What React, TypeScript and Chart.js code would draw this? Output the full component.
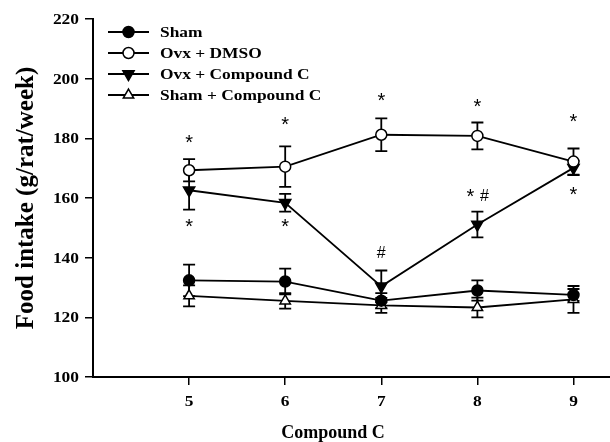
import React, { useEffect, useRef } from 'react';
import { Chart, registerables } from 'chart.js';
import { drawPoint } from 'chart.js/helpers';

Chart.register(...registerables);

// ---- data ----
const weeks = [5, 6, 7, 8, 9];
const yTicks = [100, 120, 140, 160, 180, 200, 220];

const seriesLabels = ['Sham', 'Ovx + DMSO', 'Ovx + Compound C', 'Sham + Compound C'];
const sham = [132.4, 132.0, 125.6, 129.0, 127.5];
const shamErr = [5.3, 4.3, 2.5, 3.4, 2.0];
const ovxDmso = [169.3, 170.5, 181.2, 180.8, 172.2];
const ovxDmsoErr = [3.7, 6.8, 5.5, 4.5, 4.4];
const ovxCC = [162.6, 158.4, 130.4, 151.1, 170.1];
const ovxCCErr = [6.5, 3.0, 5.3, 4.3, 2.4];
const shamCC = [127.2, 125.5, 124.0, 123.3, 126.0];
const shamCCErr = [3.5, 2.6, 2.5, 3.3, 4.5];

// significance marks (week, value, text)
const markWeeks = [5, 5, 6, 6, 7, 7, 8, 8, 9, 9];
const markValues = [179.1, 151.1, 185.0, 151.1, 193.3, 141.7, 191.1, 161.0, 186.2, 161.7];
const markTexts = ['*', '*', '*', '*', '*', '#', '*', '* #', '*', '*'];

const xTitle = 'Compound C';
const yTitle = 'Food intake (g/rat/week)';

const SERIF = '"Liberation Serif", "Times New Roman", serif';
const SANS = '"Liberation Sans", Arial, sans-serif';

const styles = [
  { pointStyle: 'circle', radius: 5.5, rotation: 0, fill: '#000' },
  { pointStyle: 'circle', radius: 5.5, rotation: 0, fill: '#fff' },
  { pointStyle: 'triangle', radius: 6.5, rotation: 180, fill: '#000' },
  { pointStyle: 'triangle', radius: 6, rotation: 0, fill: '#fff' },
];

const allValues = [sham, ovxDmso, ovxCC, shamCC];
const allErrors = [shamErr, ovxDmsoErr, ovxCCErr, shamCCErr];

function stretched(ctx: CanvasRenderingContext2D, text: string, x: number, y: number, font: string, sx: number, align: CanvasTextAlign, baseline: CanvasTextBaseline) {
  ctx.save();
  ctx.font = font;
  ctx.fillStyle = '#000';
  ctx.textAlign = align;
  ctx.textBaseline = baseline;
  ctx.translate(x, y);
  ctx.scale(sx, 1);
  ctx.fillText(text, 0, 0);
  ctx.restore();
}

function drawMark(ctx: CanvasRenderingContext2D, ch: string, x: number, cy: number) {
  if (ch === '*') {
    stretched(ctx, '*', x, cy + 8, `20px ${SANS}`, 1.0, 'center', 'alphabetic');
  } else {
    stretched(ctx, ch, x, cy + 5.5, `16px ${SANS}`, 1.0, 'center', 'alphabetic');
  }
}

const errorBarPlugin = {
  id: 'errorBars',
  beforeDatasetsDraw(chart: any) {
    const ctx = chart.ctx as CanvasRenderingContext2D;
    const xs = chart.scales.x;
    const ys = chart.scales.y;
    ctx.save();
    ctx.strokeStyle = '#000';
    ctx.lineWidth = 1.8;
    allValues.forEach((vals, i) => {
      vals.forEach((v, j) => {
        const e = allErrors[i][j];
        const x = xs.getPixelForValue(weeks[j]);
        const yt = ys.getPixelForValue(v + e);
        const yb = ys.getPixelForValue(v - e);
        ctx.beginPath();
        ctx.moveTo(x, yt);
        ctx.lineTo(x, yb);
        ctx.moveTo(x - 6, yt);
        ctx.lineTo(x + 6, yt);
        ctx.moveTo(x - 6, yb);
        ctx.lineTo(x + 6, yb);
        ctx.stroke();
      });
    });
    ctx.restore();
  },
};

const decorPlugin = {
  id: 'decor',
  afterDraw(chart: any) {
    const ctx = chart.ctx as CanvasRenderingContext2D;
    const xs = chart.scales.x;
    const ys = chart.scales.y;
    const area = chart.chartArea;

    // y tick labels
    yTicks.forEach((v) => {
      stretched(ctx, String(v), area.left - 14, ys.getPixelForValue(v) + 1, `bold 15px ${SERIF}`, 1.16, 'right', 'middle');
    });
    // x tick labels
    weeks.forEach((w) => {
      stretched(ctx, String(w), xs.getPixelForValue(w), area.bottom + 25, `bold 15px ${SERIF}`, 1.16, 'center', 'middle');
    });
    // x title
    stretched(ctx, xTitle, 333, 438, `bold 18px ${SERIF}`, 1.0, 'center', 'alphabetic');
    // y title
    ctx.save();
    ctx.font = `bold 25px ${SERIF}`;
    ctx.fillStyle = '#000';
    ctx.textAlign = 'center';
    ctx.textBaseline = 'alphabetic';
    ctx.translate(33, (area.top + area.bottom) / 2);
    ctx.rotate(-Math.PI / 2);
    ctx.fillText(yTitle, 0, 0);
    ctx.restore();

    // significance marks
    markTexts.forEach((t, k) => {
      const x = xs.getPixelForValue(markWeeks[k]);
      const y = ys.getPixelForValue(markValues[k]);
      const parts = t.split(' ');
      const gap = 14;
      parts.forEach((p, pi) => {
        const px = x + (pi - (parts.length - 1) / 2) * gap;
        drawMark(ctx, p, px, y);
      });
    });

    // legend
    const rows = [32, 53, 74, 95];
    seriesLabels.forEach((lab, i) => {
      const y = rows[i];
      ctx.save();
      ctx.strokeStyle = '#000';
      ctx.lineWidth = 1.8;
      ctx.beginPath();
      ctx.moveTo(108, y);
      ctx.lineTo(149, y);
      ctx.stroke();
      ctx.fillStyle = styles[i].fill;
      ctx.strokeStyle = '#000';
      ctx.lineWidth = 1.5;
      drawPoint(ctx, { pointStyle: styles[i].pointStyle as any, radius: styles[i].radius, rotation: styles[i].rotation, borderWidth: 1.5 } as any, 128.5, y);
      ctx.restore();
      stretched(ctx, lab, 160, y + 1, `bold 15px ${SERIF}`, 1.16, 'left', 'middle');
    });
  },
};

export default function App() {
  const ref = useRef<HTMLCanvasElement | null>(null);

  useEffect(() => {
    if (!ref.current) return;
    const datasets = allValues.map((vals, i) => ({
      label: seriesLabels[i],
      data: vals.map((v, j) => ({ x: weeks[j], y: v })),
      borderColor: '#000',
      borderWidth: 1.8,
      backgroundColor: styles[i].fill,
      pointStyle: styles[i].pointStyle as any,
      pointRadius: styles[i].radius,
      pointRotation: styles[i].rotation,
      pointBackgroundColor: styles[i].fill,
      pointBorderColor: '#000',
      pointBorderWidth: 1.5,
      tension: 0,
      fill: false,
    }));

    const chart = new Chart(ref.current, {
      type: 'line',
      data: { datasets },
      options: {
        animation: false,
        responsive: false,
        maintainAspectRatio: false,
        layout: { autoPadding: false, padding: { top: 19, right: 0, left: 0, bottom: 0 } },
        plugins: { legend: { display: false }, tooltip: { enabled: false } },
        scales: {
          x: {
            type: 'linear',
            min: 4,
            max: 9.38,
            afterBuildTicks: (s: any) => {
              s.ticks = weeks.map((v) => ({ value: v }));
            },
            afterFit: (s: any) => {
              s.height = 65;
              s.paddingLeft = 0;
              s.paddingRight = 0;
            },
            grid: { drawOnChartArea: false, drawTicks: true, tickLength: 8, color: '#000', lineWidth: 1.5 },
            border: { color: '#000', width: 2 },
            ticks: { display: false },
          },
          y: {
            type: 'linear',
            min: 100,
            max: 220,
            afterBuildTicks: (s: any) => {
              s.ticks = yTicks.map((v) => ({ value: v }));
            },
            afterFit: (s: any) => {
              s.width = 93;
              s.paddingTop = 0;
              s.paddingBottom = 0;
            },
            grid: { drawOnChartArea: false, drawTicks: true, tickLength: 8, color: '#000', lineWidth: 1.5 },
            border: { color: '#000', width: 2 },
            ticks: { display: false },
          },
        },
      },
      plugins: [errorBarPlugin, decorPlugin],
    });
    return () => chart.destroy();
  }, []);

  return (
    <div style={{ position: 'absolute', left: 0, top: 0, width: 610, height: 442, background: '#fff' }}>
      <canvas ref={ref} width={610} height={442} style={{ width: 610, height: 442, display: 'block' }} />
    </div>
  );
}
